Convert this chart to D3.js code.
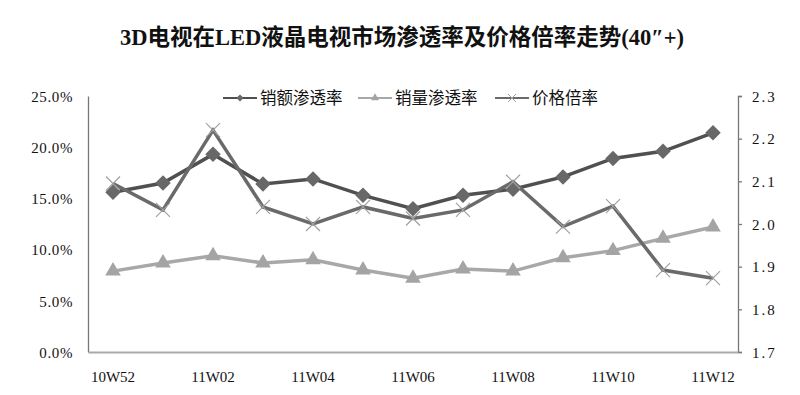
<html>
<head>
<meta charset="utf-8">
<script src="https://d3js.org/d3.v7.min.js"></script>
<style>
body {margin:0; background:#fff;}
text {font-family: "Liberation Serif", "Noto Sans CJK SC", serif;}
</style>
</head>
<body>
<svg id="chart" width="800" height="395"></svg>
<script>
// data
const weeks = ["10W52","11W01","11W02","11W03","11W04","11W05","11W06","11W07","11W08","11W09","11W10","11W11","11W12"];
const weekLabels = ["10W52","11W02","11W04","11W06","11W08","11W10","11W12"];
const salesValue = [15.6,16.5,19.3,16.4,16.9,15.3,14.0,15.3,15.9,17.1,18.9,19.6,21.4];   // 销额渗透率 %
const salesVolume = [7.9,8.7,9.4,8.7,9.0,8.0,7.2,8.1,7.9,9.2,9.9,11.1,12.2];            // 销量渗透率 %
const priceRatio = [2.095,2.033,2.22,2.04,2.0,2.04,2.013,2.033,2.099,1.994,2.042,1.892,1.873]; // 价格倍率
const leftTicks = [0,5,10,15,20,25];
const rightTicks = [1.7,1.8,1.9,2.0,2.1,2.2,2.3];

const svg = d3.select("#chart");
var x0 = 88, x1 = 738, yTop = 96, yBot = 352;

var x = d3.scaleBand().domain(weeks).range([x0, x1]);
var yL = d3.scaleLinear().domain([0,25]).range([yBot, yTop]);
var yR = d3.scaleLinear().domain([1.7,2.3]).range([yBot, yTop]);
var cx = d => x(d) + x.bandwidth()/2;

// title
svg.append("text").attr("x", 402).attr("y", 45)
  .attr("text-anchor","middle").style("font-size","22.5px").style("font-weight","bold")
  .attr("fill","#111").text("3D电视在LED液晶电视市场渗透率及价格倍率走势(40″+)");

// left axis
var gL = svg.append("g").attr("transform","translate("+x0+",0)")
  .call(d3.axisLeft(yL).tickValues(leftTicks).tickSize(0).tickPadding(15).tickFormat(d => d.toFixed(1)+"%"));
gL.select(".domain").attr("stroke","#777").attr("stroke-width",1.3);
gL.selectAll("text").style("font-size","15px").style("letter-spacing","0.6px").attr("fill","#111").attr("dy","0.35em");

// right axis
var gR = svg.append("g").attr("transform","translate("+x1+",0)")
  .call(d3.axisRight(yR).tickValues(rightTicks).tickSize(4).tickSizeOuter(4).tickPadding(10).tickFormat(d3.format(".1f")));
gR.selectAll("path,line").attr("stroke","#777").attr("stroke-width",1.3);
gR.selectAll("text").style("font-size","15px").style("letter-spacing","2px").attr("fill","#111").attr("dy","0.35em");

// bottom axis
var gB = svg.append("g").attr("transform","translate(0,"+yBot+")")
  .call(d3.axisBottom(x).tickValues(weekLabels).tickSize(0).tickPadding(19));
gB.select(".domain").attr("stroke","#aaa").attr("stroke-width",2);
gB.selectAll("text").style("font-size","15px").attr("fill","#111");

// series
var diamond = d3.symbol().type(d3.symbolSquare).size(120);
var tri = d3.symbol().type(d3.symbolTriangle).size(105);
var cross = "M-7,-7L7,7M-7,7L7,-7";

// 销量渗透率
svg.append("path").datum(salesVolume)
  .attr("d", d3.line().x((d,i) => cx(weeks[i])).y(d => yL(d)))
  .attr("fill","none").attr("stroke","#a8a8a8").attr("stroke-width",3.5);
svg.append("g").selectAll("path").data(salesVolume).enter().append("path")
  .attr("d", tri).attr("fill","#a4a4a4")
  .attr("transform", (d,i) => "translate("+cx(weeks[i])+","+yL(d)+")");

// 销额渗透率
svg.append("path").datum(salesValue)
  .attr("d", d3.line().x((d,i) => cx(weeks[i])).y(d => yL(d)))
  .attr("fill","none").attr("stroke","#505050").attr("stroke-width",3.5);
svg.append("g").selectAll("path").data(salesValue).enter().append("path")
  .attr("d", diamond).attr("fill","#686868")
  .attr("transform", (d,i) => "translate("+cx(weeks[i])+","+yL(d)+")rotate(45)");

// 价格倍率
svg.append("path").datum(priceRatio)
  .attr("d", d3.line().x((d,i) => cx(weeks[i])).y(d => yR(d)))
  .attr("fill","none").attr("stroke","#6a6a6a").attr("stroke-width",3.5);
svg.append("g").selectAll("path").data(priceRatio).enter().append("path")
  .attr("d", cross).attr("fill","none").attr("stroke","#a0a0a0").attr("stroke-width",1.2)
  .attr("transform", (d,i) => "translate("+cx(weeks[i])+","+yR(d)+")");

// legend
const legendNames = ["销额渗透率","销量渗透率","价格倍率"];
var legendX = [223, 358, 495];
var legendColor = ["#505050","#a8a8a8","#6a6a6a"];
var lg = svg.append("g");
legendNames.forEach(function(name, i){
  var g = lg.append("g").attr("transform","translate("+legendX[i]+",98)");
  g.append("line").attr("x1",0).attr("x2",34).attr("stroke",legendColor[i]).attr("stroke-width",2);
  if (i==0) g.append("path").attr("d", d3.symbol().type(d3.symbolSquare).size(26)).attr("fill","#686868").attr("transform","translate(17,0)rotate(45)");
  if (i==1) g.append("path").attr("d", d3.symbol().type(d3.symbolTriangle).size(28)).attr("fill","#a4a4a4").attr("transform","translate(17,0)");
  if (i==2) g.append("path").attr("d","M-4,-4L4,4M-4,4L4,-4").attr("stroke","#a0a0a0").attr("fill","none").attr("transform","translate(17,0)");
  g.append("text").attr("x",37).attr("dy","0.35em").style("font-size","16.5px").attr("fill","#111").text(name);
});
</script>
</body>
</html>
